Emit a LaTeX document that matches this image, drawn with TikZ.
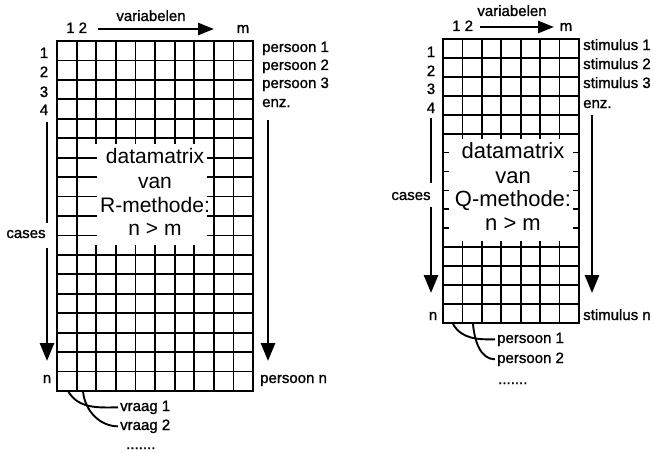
\documentclass[tikz,border=0pt]{standalone}
\usepackage{fontspec}
\setmainfont{Liberation Sans}
\newfontfamily\lblfont[FakeBold=1.2]{Liberation Sans}
\usetikzlibrary{arrows.meta}
\begin{document}
\begin{tikzpicture}[x=1pt,y=-1pt,
  gridline/.style={line width=1.8pt},
  border/.style={line width=2.4pt},
  lbl/.style={font=\lblfont\fontsize{15}{15}\selectfont, inner sep=0pt},
  big/.style={font=\fontsize{21}{21}\selectfont, inner sep=0pt},
  bigq/.style={font=\fontsize{22}{22}\selectfont, inner sep=0pt},
  flow/.style={line width=2.8pt},
  flowhead/.style={line width=2.8pt,-{Triangle[width=14pt,length=18pt]}},
  topflow/.style={line width=2.5pt,-{Triangle[width=12pt,length=16pt]}},
  lead/.style={line width=1.9pt, shorten >=2pt},
]
\useasboundingbox (0,0) rectangle (655,452);

% ================= left grid (R-methode) =================
\draw[gridline] (76.6,41) -- (76.6,391);
\foreach \i in {2,...,7} {
  \draw[gridline] ({57+\i*19.6},41) -- ({57+\i*19.6},144);
  \draw[gridline] ({57+\i*19.6},245) -- ({57+\i*19.6},391);
}
\foreach \i in {8,9} \draw[gridline] ({57+\i*19.6},41) -- ({57+\i*19.6},391);
\foreach \j in {1,2,3,4,5,11,12,13,14,15,16,17}
  \draw[gridline] (57,{41+\j*19.444}) -- (253,{41+\j*19.444});
\foreach \j in {6,...,10} {
  \draw[gridline] (57,{41+\j*19.444}) -- (97,{41+\j*19.444});
  \draw[gridline] (207,{41+\j*19.444}) -- (253,{41+\j*19.444});
}
\draw[border] (57,41) rectangle (253,391);

\node[lbl, anchor=base] (lvar) at (151,21) {variabelen};
\node[lbl, anchor=base west] (l12) at (66,33) {1 2};
\node[lbl, anchor=base] (lm) at (243,33) {m};
\coordinate (lvarA) at (98,29);
\coordinate (lvarB) at (214,29);
\draw[topflow] (lvarA) -- (lvarB);

\node[lbl, anchor=base] (lr1) at (44,58) {1};
\node[lbl, anchor=base] (lr2) at (44,77) {2};
\node[lbl, anchor=base] (lr3) at (44,97) {3};
\node[lbl, anchor=base] (lr4) at (44,115) {4};
\node[lbl, anchor=base] (lrn) at (47,383) {n};

\node[lbl, anchor=base west] (lp1) at (262,52) {persoon 1};
\node[lbl, anchor=base west] (lp2) at (262,70) {persoon 2};
\node[lbl, anchor=base west] (lp3) at (262,88) {persoon 3};
\node[lbl, anchor=base west] (lp4) at (262,107) {enz.};
\node[lbl, anchor=base west] (lpn) at (260,383) {persoon n};

\node[lbl, anchor=base] (lcases) at (26,238) {cases};
\coordinate (lcA) at (47,122);
\coordinate (lcB) at (47,223);
\coordinate (lcC) at (47,248);
\coordinate (lcD) at (47,361);
\draw[flow] (lcA) -- (lcB);
\draw[flowhead] (lcC) -- (lcD);
\coordinate (lrA) at (268,120);
\coordinate (lrB) at (268,361);
\draw[flowhead] (lrA) -- (lrB);

\node[big, anchor=base] (lt1) at (155,163) {datamatrix};
\node[big, anchor=base] (lt2) at (155,188) {van};
\node[big, anchor=base] (lt3) at (155,212) {R-methode:};
\node[big, anchor=base] (lt4) at (155,235) {n > m};

\node[lbl, anchor=base west] (lv1) at (120,411) {vraag 1};
\node[lbl, anchor=base west] (lv2) at (120,430) {vraag 2};
\node[lbl, anchor=base west] (ldots) at (126,449) {.......};
\coordinate (lc1) at (68,391);
\coordinate (lc2) at (83,391);
\draw[lead] (lc1) to[out=-60,in=180] (lv1.west);
\draw[lead] (lc2) to[out=-85,in=180] (lv2.west);

% ================= right grid (Q-methode) =================
\foreach \i in {1,...,6} {
  \draw[gridline] ({443+\i*19.4286},39) -- ({443+\i*19.4286},139);
  \draw[gridline] ({443+\i*19.4286},241) -- ({443+\i*19.4286},323);
}
\foreach \j in {1,2,3,4,5,11,12,13,14}
  \draw[gridline] (443,{39+\j*18.933}) -- (579,{39+\j*18.933});
\foreach \j in {6,...,10} {
  \draw[gridline] (443,{39+\j*18.933}) -- (449,{39+\j*18.933});
  \draw[gridline] (573,{39+\j*18.933}) -- (579,{39+\j*18.933});
}
\draw[border] (443,39) rectangle (579,323);

\node[lbl, anchor=base] (rvar) at (512,16) {variabelen};
\node[lbl, anchor=base west] (r12) at (452,31) {1 2};
\node[lbl, anchor=base] (rm) at (566,31) {m};
\coordinate (rvarA) at (480,27);
\coordinate (rvarB) at (554,27);
\draw[topflow] (rvarA) -- (rvarB);

\node[lbl, anchor=base] (rr1) at (431,57) {1};
\node[lbl, anchor=base] (rr2) at (431,76) {2};
\node[lbl, anchor=base] (rr3) at (431,94) {3};
\node[lbl, anchor=base] (rr4) at (431,113) {4};
\node[lbl, anchor=base] (rrn) at (433,320) {n};

\node[lbl, anchor=base west] (rs1) at (583,50) {stimulus 1};
\node[lbl, anchor=base west] (rs2) at (583,69) {stimulus 2};
\node[lbl, anchor=base west] (rs3) at (583,88) {stimulus 3};
\node[lbl, anchor=base west] (rs4) at (583,108) {enz.};
\node[lbl, anchor=base west] (rsn) at (583,320) {stimulus n};

\node[lbl, anchor=base] (rcases) at (411,200) {cases};
\coordinate (rcA) at (431,118);
\coordinate (rcB) at (431,183);
\coordinate (rcC) at (431,207);
\coordinate (rcD) at (431,293);
\draw[flow] (rcA) -- (rcB);
\draw[flowhead] (rcC) -- (rcD);
\coordinate (rrA) at (592,115);
\coordinate (rrB) at (592,293);
\draw[flowhead] (rrA) -- (rrB);

\node[bigq, anchor=base] (rt1) at (513,158) {datamatrix};
\node[bigq, anchor=base] (rt2) at (513,183) {van};
\node[bigq, anchor=base] (rt3) at (513,206) {Q-methode:};
\node[bigq, anchor=base] (rt4) at (513,230) {n > m};

\node[lbl, anchor=base west] (rp1) at (497,343) {persoon 1};
\node[lbl, anchor=base west] (rp2) at (497,363) {persoon 2};
\node[lbl, anchor=base west] (rdots) at (498,384) {.......};
\coordinate (rc1) at (453,324);
\coordinate (rc2) at (473,324);
\draw[lead] (rc1) to[out=-60,in=180] (rp1.west);
\draw[lead] (rc2) to[out=-85,in=180] (rp2.west);
\end{tikzpicture}
\end{document}
